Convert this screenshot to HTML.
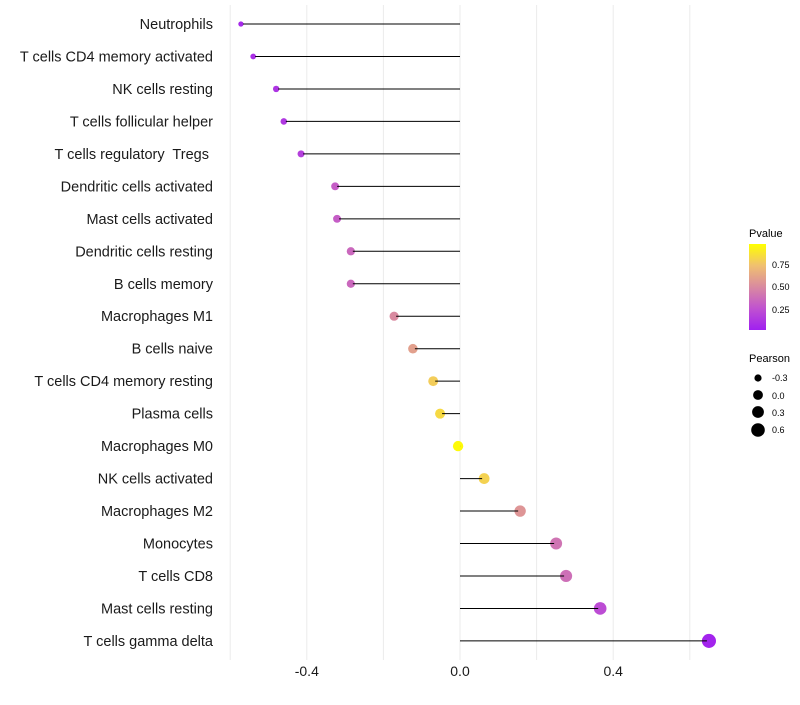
<!DOCTYPE html>
<html><head><meta charset="utf-8"><style>
body{margin:0;background:#fff;font-family:"Liberation Sans",sans-serif}
svg text{font-family:"Liberation Sans",sans-serif;white-space:pre}
</style></head><body>
<svg id="chart" width="800" height="700" xmlns="http://www.w3.org/2000/svg">
<defs><linearGradient id="pg" x1="0" y1="1" x2="0" y2="0">
<stop offset="0" stop-color="#a020f0"/><stop offset="0.25" stop-color="#c052d0"/><stop offset="0.5" stop-color="#d98aa0"/><stop offset="0.75" stop-color="#f0c070"/><stop offset="1" stop-color="#ffff00"/></linearGradient></defs>
<g id="grid"></g>
<g id="dots"></g>
<g id="marks"></g>
<g id="labels"></g>
<g id="xt"></g>
<g font-size="10">
<text x="749" y="237" font-size="11">Pvalue</text>
<rect x="749" y="244" width="17" height="86" fill="url(#pg)"/>
<text x="772" y="268" font-size="9">0.75</text>
<text x="772" y="290" font-size="9">0.50</text>
<text x="772" y="313" font-size="9">0.25</text>
</g>
<g font-size="9">
<text x="749" y="362" font-size="11">Pearson</text>
<circle cx="758" cy="378" r="3.6"/><text x="772" y="381">-0.3</text>
<circle cx="758" cy="395" r="4.9"/><text x="772" y="399">0.0</text>
<circle cx="758" cy="412" r="5.9"/><text x="772" y="416">0.3</text>
<circle cx="758" cy="430" r="6.8"/><text x="772" y="433">0.6</text>
</g>
</svg>
<script>
const categories=["Neutrophils","T cells CD4 memory activated","NK cells resting","T cells follicular helper","T cells regulatory  Tregs ","Dendritic cells activated","Mast cells activated","Dendritic cells resting","B cells memory","Macrophages M1","B cells naive","T cells CD4 memory resting","Plasma cells","Macrophages M0","NK cells activated","Macrophages M2","Monocytes","T cells CD8","Mast cells resting","T cells gamma delta"];
const pearson=[-0.572,-0.540,-0.480,-0.460,-0.415,-0.326,-0.321,-0.285,-0.285,-0.172,-0.123,-0.070,-0.052,-0.005,0.063,0.157,0.251,0.277,0.366,0.650];
const pvalues=[0.05,0.08,0.1,0.12,0.16,0.3,0.3,0.35,0.35,0.5,0.6,0.8,0.85,0.98,0.82,0.55,0.4,0.38,0.22,0.02];
const xTicks=[-0.4,0.0,0.4];
const xGrid=[-0.6,-0.4,-0.2,0,0.2,0.4,0.6];
const NS="http://www.w3.org/2000/svg";
const x=v=>460+v*383;
const y=i=>24+i*32.47;
const rr=v=>Math.sqrt(Math.max(1.8,27+35*v));
const stops=[[0,[160,32,240]],[0.25,[192,82,208]],[0.5,[217,138,160]],[0.75,[240,192,112]],[1,[255,255,0]]];
function col(p){for(let i=0;i<stops.length-1;i++){const a=stops[i],b=stops[i+1];if(p<=b[0]){const t=(p-a[0])/(b[0]-a[0]);return 'rgb('+a[1].map((c,k)=>Math.round(c+(b[1][k]-c)*t)).join(',')+')';}}return 'rgb(255,255,0)';}
function mk(t,a,p){const e=document.createElementNS(NS,t);for(const k in a)e.setAttribute(k,a[k]);p.appendChild(e);return e;}
const grid=document.getElementById('grid');
xGrid.forEach(g=>{const l=mk('line',{x1:x(g),x2:x(g),y1:5,y2:660,stroke:'#ebebeb','stroke-width':1},grid);

});
const marks=document.getElementById('marks'),dots=document.getElementById('dots'),labels=document.getElementById('labels'),xt=document.getElementById('xt');
categories.forEach((c,i)=>{
const d=mk('circle',{cx:x(pearson[i]),cy:y(i),r:rr(pearson[i]),fill:col(pvalues[i])},dots);


const l=mk('line',{x1:x(0),x2:x(pearson[i])+(pearson[i]<0?2:-2),y1:y(i),y2:y(i),stroke:'#000','stroke-width':1},marks);


const t=mk('text',{x:213,y:y(i)+5,'text-anchor':'end','font-size':14.5,fill:'#1a1a1a'},labels);t.textContent=c;


});
xTicks.forEach(v=>{const t=mk('text',{x:x(v),y:676,'text-anchor':'middle','font-size':14,fill:'#1a1a1a'},xt);t.textContent=v.toFixed(1);

});
</script>
</body></html>
